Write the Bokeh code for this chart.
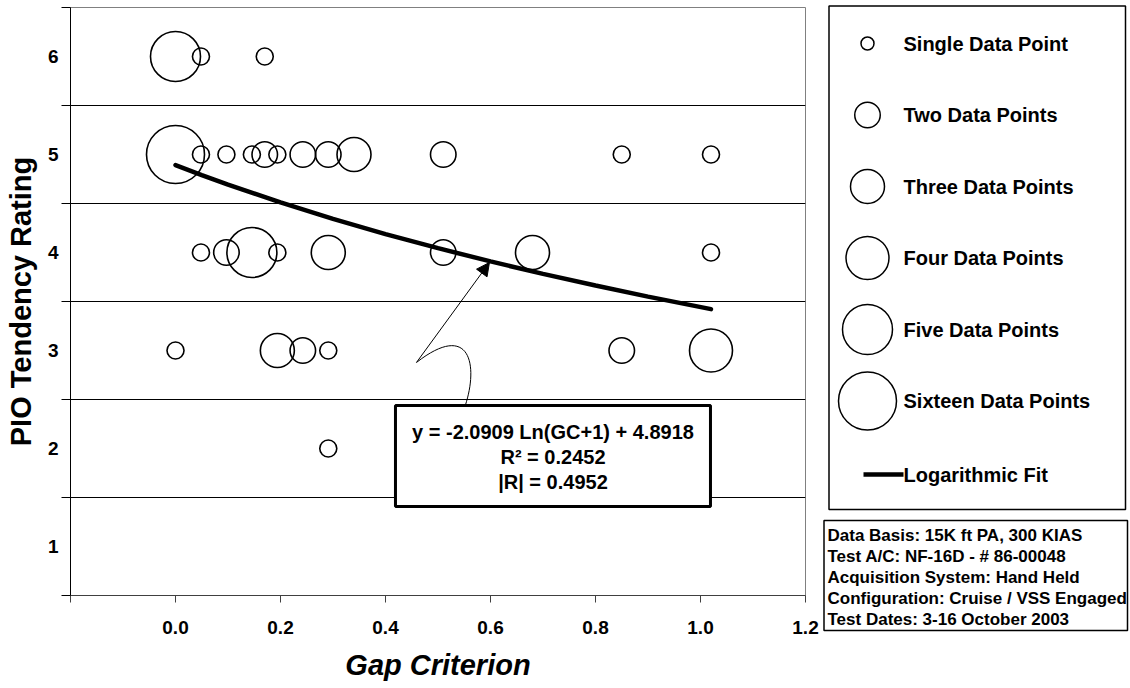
from bokeh.plotting import figure
from bokeh.models import (Range1d, FixedTicker, BoxAnnotation, Label, Arrow,
                          NormalHead, PrintfTickFormatter)
from bokeh.embed import file_html
from bokeh.resources import INLINE
from bokeh.core.properties import value

# ---------------- data ----------------
gap_criterion = [0.0, 0.0485, 0.17,
                 0.0, 0.0485, 0.097, 0.1455, 0.17, 0.194, 0.2425, 0.291, 0.34, 0.51, 0.85, 1.02,
                 0.0485, 0.097, 0.1455, 0.194, 0.291, 0.51, 0.68, 1.02,
                 0.0, 0.194, 0.2425, 0.291, 0.85, 1.02,
                 0.291]
pio_rating = [6, 6, 6,
              5, 5, 5, 5, 5, 5, 5, 5, 5, 5, 5, 5,
              4, 4, 4, 4, 4, 4, 4, 4,
              3, 3, 3, 3, 3, 3,
              2]
point_count = [5, 1, 1,
               16, 1, 1, 1, 2, 1, 2, 2, 3, 2, 1, 1,
               1, 2, 5, 1, 3, 2, 3, 1,
               1, 3, 2, 1, 2, 4,
               1]

# logarithmic fit
fit_gc = [0.0, 0.05, 0.1, 0.2, 0.3, 0.4, 0.5, 0.6, 0.7, 0.8, 0.9, 1.02]
fit_rating = [4.892, 4.790, 4.693, 4.511, 4.343, 4.188, 4.044, 3.909, 3.782, 3.663, 3.550, 3.422]

legend_counts = [1, 2, 3, 4, 5, 16]
legend_labels = ["Single Data Point", "Two Data Points", "Three Data Points",
                 "Four Data Points", "Five Data Points", "Sixteen Data Points"]
fit_label = "Logarithmic Fit"

eq_lines = ["y = -2.0909 Ln(GC+1) + 4.8918", "R\u00b2 = 0.2452", "|R| = 0.4952"]
info_lines = ["Data Basis: 15K ft PA, 300 KIAS",
              "Test A/C: NF-16D - # 86-00048",
              "Acquisition System: Hand Held",
              "Configuration: Cruise / VSS Engaged",
              "Test Dates: 3-16 October 2003"]

x_ticks = [0.0, 0.2, 0.4, 0.6, 0.8, 1.0, 1.2]
y_ticks = [1, 2, 3, 4, 5, 6]

# ---------------- style ----------------
FONT = "Liberation Sans"
DIAM = {1: 17, 2: 25.5, 3: 34, 4: 43, 5: 50, 16: 58}

p = figure(frame_width=735, frame_height=588,
           x_range=Range1d(-0.2, 1.2), y_range=Range1d(0.5, 6.5),
           min_border_left=70, min_border_right=17, min_border_top=7, min_border_bottom=93,
           output_backend="svg", toolbar_location=None, title_location=None)
p.outline_line_color = "#808080"
p.outline_line_width = 1
p.background_fill_color = "white"
p.border_fill_color = "white"

# x axis
p.xaxis.ticker = FixedTicker(ticks=x_ticks, minor_ticks=[-0.2])
p.xaxis.formatter = PrintfTickFormatter(format="%.1f")
p.xaxis.axis_line_color = "#404040"
p.xaxis.major_tick_out = 7
p.xaxis.major_tick_in = 0
p.xaxis.minor_tick_out = 7
p.xaxis.minor_tick_in = 0
p.xaxis.major_tick_line_color = "#404040"
p.xaxis.minor_tick_line_color = "#404040"
p.xaxis.major_label_standoff = 18
p.xaxis.major_label_text_font = FONT
p.xaxis.major_label_text_font_style = "bold"
p.xaxis.major_label_text_font_size = "19px"
p.xaxis.major_label_text_color = "black"
p.xaxis.axis_label = "Gap Criterion"
p.xaxis.axis_label_text_font = FONT
p.xaxis.axis_label_text_font_style = "bold italic"
p.xaxis.axis_label_text_font_size = "29px"
p.xaxis.axis_label_text_color = "black"
p.xaxis.axis_label_standoff = 12

# y axis
p.yaxis.ticker = FixedTicker(ticks=y_ticks, minor_ticks=[0.5, 1.5, 2.5, 3.5, 4.5, 5.5, 6.5])
p.yaxis.axis_line_color = "black"
p.yaxis.major_tick_out = 0
p.yaxis.major_tick_in = 0
p.yaxis.minor_tick_out = 9
p.yaxis.minor_tick_in = 0
p.yaxis.minor_tick_line_color = "black"
p.yaxis.major_label_standoff = 3
p.yaxis.major_label_text_font = FONT
p.yaxis.major_label_text_font_style = "bold"
p.yaxis.major_label_text_font_size = "19px"
p.yaxis.major_label_text_color = "black"
p.yaxis.axis_label = "PIO Tendency Rating"
p.yaxis.axis_label_text_font = FONT
p.yaxis.axis_label_text_font_style = "bold"
p.yaxis.axis_label_text_font_size = "29px"
p.yaxis.axis_label_text_color = "black"
p.yaxis.axis_label_standoff = 8

p.xgrid.grid_line_color = None
p.ygrid.grid_line_color = None
p.ygrid.minor_grid_line_color = "black"
p.ygrid.minor_grid_line_width = 1

# bubbles
p.scatter(x=gap_criterion, y=pio_rating, size=[DIAM[c] for c in point_count],
          marker="circle", fill_color=None, line_color="black", line_width=1.6)

# fit
p.line(x=fit_gc, y=fit_rating, line_color="black", line_width=4.5, line_cap="round")

# callout connector
p.bezier(x0=[0.459], y0=[2.878], x1=[0.552], y1=[2.439],
         cx0=[0.562], cy0=[3.306], cx1=[0.577], cy1=[2.847],
         line_color="black", line_width=1)
p.add_layout(Arrow(end=NormalHead(size=13, fill_color="black", line_color="black"),
                   x_start=0.459, y_start=2.878, x_end=0.598, y_end=3.898,
                   line_color="black", line_width=1))

# equation box
p.add_layout(BoxAnnotation(left=0.419, right=1.019, top=2.439, bottom=1.408,
                           fill_color="white", fill_alpha=1.0,
                           line_color="black", line_width=3, line_alpha=1.0))
for i, t in enumerate(eq_lines):
    p.add_layout(Label(x=0.719, y=2.166 - i * 0.255, text=t, text_align="center",
                       text_baseline="middle", text_font=FONT, text_font_style="bold",
                       text_font_size="20px", text_color="black"))

# ---------------- legend / info panel (separate figure, pixel-like units) ----------------
q = figure(width=308, height=688, x_range=Range1d(822, 1130), y_range=Range1d(688, 0),
           min_border=0, output_backend="svg", toolbar_location=None, title_location=None)
q.axis.visible = False
q.grid.grid_line_color = None
q.outline_line_color = None
q.background_fill_color = "white"
q.border_fill_color = "white"

q.quad(left=[828.5], right=[1125], top=[5.5], bottom=[509], fill_color=None,
       line_color="black", line_width=1.5)
leg_y = [43 + 71.5 * i for i in range(len(legend_counts))]
q.scatter(x=[867] * len(legend_counts), y=leg_y,
          size=[DIAM[c] if c > 1 else 13 for c in legend_counts],
          marker="circle", fill_color=None, line_color="black", line_width=1.5)
q.text(x=[903] * len(legend_labels), y=leg_y, text=legend_labels,
       text_font=value(FONT), text_font_style="bold", text_font_size="20px",
       text_baseline="middle", text_color="black")
fit_y = 43 + 71.5 * len(legend_counts) + 2
q.line(x=[863, 903], y=[fit_y, fit_y], line_color="black", line_width=4.5)
q.text(x=[903], y=[fit_y], text=[fit_label], text_font=value(FONT), text_font_style="bold",
       text_font_size="20px", text_baseline="middle", text_color="black")

q.quad(left=[823.5], right=[1127], top=[520], bottom=[630], fill_color=None,
       line_color="black", line_width=1.5)
q.text(x=[827] * len(info_lines), y=[535 + 21 * i for i in range(len(info_lines))],
       text=info_lines, text_font=value(FONT), text_font_style="bold",
       text_font_size="17px", text_baseline="middle", text_color="black")

# place the two independent roots side by side (no frame alignment between them)
side_by_side = """
{% block postamble %}
<style>
  body { display: flex !important; flex-direction: row; align-items: flex-start; }
</style>
{% endblock %}
"""
open("out.html", "w").write(file_html([p, q], INLINE, template=side_by_side))
